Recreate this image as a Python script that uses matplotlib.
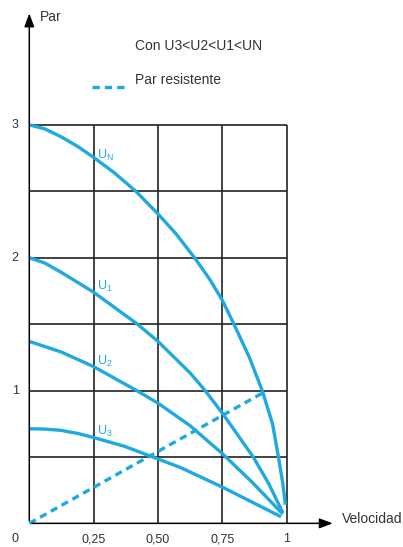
import matplotlib
matplotlib.use('Agg')
import matplotlib.pyplot as plt

plt.rcParams['font.family'] = ['Liberation Sans', 'DejaVu Sans']

# curves (velocidad, par)
un_x = [0, 0.06, 0.124, 0.19, 0.25, 0.33, 0.414, 0.5, 0.57, 0.642, 0.70, 0.75, 0.795,
        0.855, 0.905, 0.945, 0.968, 0.985, 0.995]
un_y = [3.0, 2.97, 2.91, 2.835, 2.755, 2.64, 2.5, 2.33, 2.18, 2.0, 1.84, 1.68, 1.5,
        1.25, 1.0, 0.75, 0.5, 0.3, 0.14]

u1_x = [0, 0.06, 0.124, 0.25, 0.42, 0.5, 0.626, 0.683, 0.75, 0.87, 0.93, 0.985]
u1_y = [2.0, 1.96, 1.89, 1.74, 1.5, 1.37, 1.13, 1.0, 0.83, 0.5, 0.3, 0.08]

u2_x = [0, 0.124, 0.25, 0.417, 0.5, 0.625, 0.75, 0.862, 0.985]
u2_y = [1.37, 1.29, 1.18, 1.0, 0.905, 0.735, 0.525, 0.317, 0.07]

u3_x = [0, 0.06, 0.124, 0.19, 0.25, 0.37, 0.479, 0.588, 0.75, 0.978]
u3_y = [0.712, 0.71, 0.70, 0.676, 0.646, 0.58, 0.5, 0.42, 0.273, 0.05]

resist_x = [0, 0.905]
resist_y = [0, 0.98]

x_ticks = [0.25, 0.5, 0.75, 1]
x_labels = ['0,25', '0,50', '0,75', '1']
y_ticks = [1, 2, 3]
y_labels = ['1', '2', '3']
h_grid = [0.5, 1, 1.5, 2, 2.5, 3]

blue = '#1ea9e1'
dark = '#333333'

fig = plt.figure(figsize=(4.03, 5.47), dpi=100)
ax = fig.add_axes([0, 0, 1, 1])
ax.set_xlim(-0.1138, 1.452)
ax.set_ylim(-0.178, 3.94)
ax.axis('off')

# grid
ax.hlines(h_grid, 0, 1, color='#222222', lw=1.2)
ax.vlines(x_ticks, 0, 3, color='#222222', lw=1.2)

# axes with arrows
ax.annotate('', xy=(0, 3.86), xytext=(0, 0),
            arrowprops=dict(arrowstyle='-|>,head_length=0.8,head_width=0.3', color='black', lw=1.1))
ax.annotate('', xy=(1.19, 0), xytext=(0, 0),
            arrowprops=dict(arrowstyle='-|>,head_length=0.8,head_width=0.3', color='black', lw=1.1))

# curves
for xs, ys in [(un_x, un_y), (u1_x, u1_y), (u2_x, u2_y), (u3_x, u3_y)]:
    ax.plot(xs, ys, color=blue, lw=2.4, solid_capstyle='butt', solid_joinstyle='round')
ax.plot(resist_x, resist_y, color=blue, lw=2.4, ls=(0, (2.2, 1.5)))

# curve labels
ax.text(0.263, 2.77, r'U$_\mathregular{N}$', color=blue, fontsize=9, va='center')
ax.text(0.263, 1.78, r'U$_\mathregular{1}$', color=blue, fontsize=9, va='center')
ax.text(0.263, 1.22, r'U$_\mathregular{2}$', color=blue, fontsize=9, va='center')
ax.text(0.263, 0.69, r'U$_\mathregular{3}$', color=blue, fontsize=9, va='center')

# ticks
for t, lab in zip(x_ticks, x_labels):
    ax.text(t, -0.12, lab, ha='center', va='center', fontsize=9, color=dark)
ax.text(-0.055, -0.12, '0', ha='center', va='center', fontsize=9, color=dark)
for t, lab in zip(y_ticks, y_labels):
    ax.text(-0.055, t, lab, ha='center', va='center', fontsize=9, color=dark)

# axis titles
ax.text(0.04, 3.81, 'Par', ha='left', va='center', fontsize=10, color=dark)
ax.text(1.215, 0.03, 'Velocidad', ha='left', va='center', fontsize=10, color=dark)

# legend
ax.text(0.41, 3.59, 'Con U3<U2<U1<UN', ha='left', va='center', fontsize=10, color=dark)
ax.plot([0.245, 0.38], [3.285, 3.285], color=blue, lw=2.4, ls=(0, (2.2, 1.5)))
ax.text(0.41, 3.34, 'Par resistente', ha='left', va='center', fontsize=10, color=dark)

fig.savefig('out.png', dpi=100)
